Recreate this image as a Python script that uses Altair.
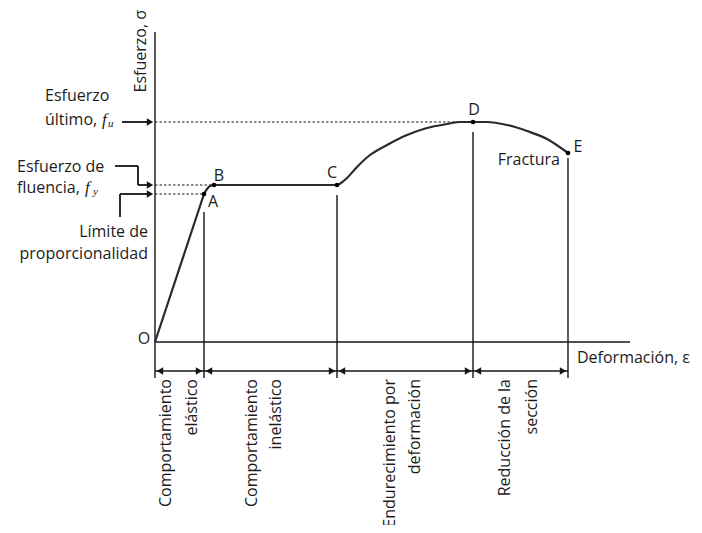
import altair as alt
import pandas as pd

# ---- stress-strain curve (conceptual units, origin at O) ----
# elastic branch O -> A (straight)
elastic_strain = [0, 49]
elastic_stress = [0, 148]
# from A through B, C, D to E
plastic_strain = [49, 52, 55, 59, 182, 186, 192, 202, 215, 232, 252, 272, 292, 305, 318, 332, 352, 372, 392, 413]
plastic_stress = [148, 153, 156, 157, 157, 159, 164, 175, 187, 197, 207, 214, 218, 220, 220, 220, 217, 211, 203, 189]

# key points
pt_names = ["A", "B", "C", "D", "E"]
pt_strain = [49, 59, 182, 318, 413]
pt_stress = [148, 157, 157, 220, 189]

# point letter labels
lab_text = ["O", "A", "B", "C", "D", "E"]
lab_x = [-11, 58, 64, 177, 319, 423]
lab_y = [3, 140, 166, 169, 232, 195]

# axes, dimension line, extension lines
rule_x = [0, 0, 0, 49, 182, 318, 413]
rule_x2 = [0, 475, 413, 49, 182, 318, 413]
rule_y = [-36, 0, -29, -36, -36, -36, -36]
rule_y2 = [310, 0, -29, 130, 147, 210, 184]

# dotted reference lines (f_u, f_y, proportional limit)
dot_x2 = [318, 59, 49]
dot_y = [220, 157, 148]

# leader lines of the left annotations
lead_x = [-33, -40, -17, -17, -35, -35]
lead_x2 = [-6, -17, -17, -6, -35, -6]
lead_y = [220, 176, 176, 157, 125, 148]
lead_y2 = [220, 176, 157, 157, 148, 148]

# arrow heads
arr_r_x = [-5, -5, -5, 44, 177, 313, 408]
arr_r_y = [220, 157, 148, -29, -29, -29, -29]
arr_l_x = [5, 54, 187, 323]
arr_l_y = [-29, -29, -29, -29]

# texts
left_text = ["Esfuerzo", "último,", "Esfuerzo de", "fluencia,", "Deformación, ε"]
left_x = [-110, -110, -138, -138, 422]
left_y = [246, 222, 175, 154, -16]

right_text = ["Límite de", "proporcionalidad", "Fractura"]
right_x = [-7, -7, 405]
right_y = [110, 88, 182]

sym_text = ["f", "f"]
sym_x = [-53, -70]
sym_y = [222, 154]
sub_text = ["u", "y"]
sub_x = [-47, -62]
sub_y = [218, 150]

rot_text = ["Esfuerzo, σ", "Comportamiento", "elástico", "Comportamiento", "inelástico",
            "Endurecimiento por", "deformación", "Reducción de la", "sección"]
rot_x = [-14, 11, 37, 97, 121, 235, 260, 350, 377]
rot_y = [332, -37, -37, -37, -37, -37, -37, -37, -37]

xs = alt.Scale(domain=[-147, 539], nice=False, zero=False)
ys = alt.Scale(domain=[-183, 334], nice=False, zero=False)
X = alt.X("x:Q", scale=xs, axis=None)
Y = alt.Y("y:Q", scale=ys, axis=None)

FONT = "Open Sans"
TXT = "#1c1c1c"

el_df = pd.DataFrame({"x": elastic_strain, "y": elastic_stress, "o": list(range(len(elastic_strain)))})
elastic = alt.Chart(el_df).mark_line(color="#2b2b2b", strokeWidth=2.2).encode(x=X, y=Y, order="o:Q")

pl_df = pd.DataFrame({"x": plastic_strain, "y": plastic_stress, "o": list(range(len(plastic_strain)))})
plastic = alt.Chart(pl_df).mark_line(color="#2b2b2b", strokeWidth=2.2, interpolate="monotone").encode(
    x=X, y=Y, order="o:Q")

rules_df = pd.DataFrame({"x": rule_x, "x2": rule_x2, "y": rule_y, "y2": rule_y2})
rules = alt.Chart(rules_df).mark_rule(color="#151515", strokeWidth=1.4).encode(
    x=X, y=Y, x2="x2:Q", y2="y2:Q")

dots_df = pd.DataFrame({"x": [0, 0, 0], "x2": dot_x2, "y": dot_y})
dotted = alt.Chart(dots_df).mark_rule(color="#8c8c8c", strokeWidth=2, strokeDash=[2.5, 2]).encode(
    x=X, x2="x2:Q", y=Y)

lead_df = pd.DataFrame({"x": lead_x, "x2": lead_x2, "y": lead_y, "y2": lead_y2})
leads = alt.Chart(lead_df).mark_rule(color="#151515", strokeWidth=1.8).encode(
    x=X, y=Y, x2="x2:Q", y2="y2:Q")

ar_df = pd.DataFrame({"x": arr_r_x, "y": arr_r_y})
arr_r = alt.Chart(ar_df).mark_point(shape="triangle-right", filled=True, size=55, color="#151515", opacity=1).encode(x=X, y=Y)
al_df = pd.DataFrame({"x": arr_l_x, "y": arr_l_y})
arr_l = alt.Chart(al_df).mark_point(shape="triangle-left", filled=True, size=55, color="#151515", opacity=1).encode(x=X, y=Y)

pts_df = pd.DataFrame({"x": pt_strain, "y": pt_stress, "name": pt_names})
pts = alt.Chart(pts_df).mark_circle(size=22, color="#000000", opacity=1).encode(x=X, y=Y)

lab_df = pd.DataFrame({"x": lab_x, "y": lab_y, "t": lab_text})
labs = alt.Chart(lab_df).mark_text(font=FONT, fontSize=16, color=TXT, align="center", baseline="middle").encode(
    x=X, y=Y, text="t:N")

lt_df = pd.DataFrame({"x": left_x, "y": left_y, "t": left_text})
ltxt = alt.Chart(lt_df).mark_text(font=FONT, fontSize=16, color=TXT, align="left", baseline="middle").encode(
    x=X, y=Y, text="t:N")

rt_df = pd.DataFrame({"x": right_x, "y": right_y, "t": right_text})
rtxt = alt.Chart(rt_df).mark_text(font=FONT, fontSize=16, color=TXT, align="right", baseline="middle").encode(
    x=X, y=Y, text="t:N")

sym_df = pd.DataFrame({"x": sym_x, "y": sym_y, "t": sym_text})
sym = alt.Chart(sym_df).mark_text(font="Liberation Serif", fontStyle="italic", fontSize=17, color=TXT,
                                  align="left", baseline="middle").encode(x=X, y=Y, text="t:N")
sub_df = pd.DataFrame({"x": sub_x, "y": sub_y, "t": sub_text})
sub = alt.Chart(sub_df).mark_text(font="Liberation Serif", fontStyle="italic", fontSize=11, color=TXT,
                                  align="left", baseline="middle").encode(x=X, y=Y, text="t:N")

rot_df = pd.DataFrame({"x": rot_x, "y": rot_y, "t": rot_text})
rot = alt.Chart(rot_df).mark_text(font=FONT, fontSize=16, color=TXT, align="right", baseline="middle",
                                  angle=270).encode(x=X, y=Y, text="t:N")

chart = alt.layer(dotted, rules, leads, elastic, plastic, arr_r, arr_l, pts, labs, ltxt, rtxt, sym, sub, rot).properties(
    width=686, height=517, autosize=alt.AutoSizeParams(type="none"), padding=0,
    background="white"
).configure_view(stroke=None)

chart.save("out.html", embed_options={"renderer": "svg", "actions": False})
